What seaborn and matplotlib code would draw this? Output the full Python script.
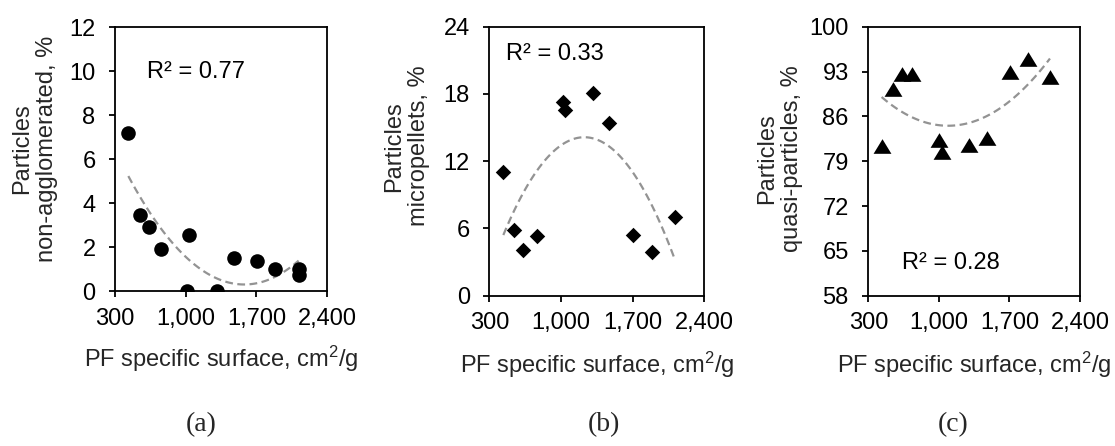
import numpy as np
import pandas as pd
import matplotlib
matplotlib.use("Agg")
import matplotlib.pyplot as plt
import seaborn as sns
from matplotlib.ticker import FuncFormatter, FixedLocator

# ---------------- data ----------------
x_a = [432, 548, 637, 753, 1011, 1037, 1309, 1474, 1705, 1887, 2119, 2119]
y_a = [7.2, 3.45, 2.92, 1.89, 0.0, 2.53, 0.0, 1.48, 1.38, 0.98, 0.98, 0.75]

x_b = [437, 544, 632, 769, 1017, 1039, 1310, 1473, 1707, 1893, 2114]
y_b = [11.0, 5.9, 4.1, 5.3, 17.3, 16.6, 18.1, 15.4, 5.4, 3.9, 7.0]

x_c = [432, 548, 637, 737, 1001, 1028, 1299, 1474, 1705, 1887, 2102]
y_c = [81.3, 90.2, 92.6, 92.6, 82.3, 80.5, 81.6, 82.7, 93.0, 94.9, 92.1]

r2_labels = ["R\u00b2 = 0.77", "R\u00b2 = 0.33", "R\u00b2 = 0.28"]
y_labels = ["Particles\nnon-agglomerated, %",
            "Particles\nmicropellets, %",
            "Particles\nquasi-particles, %"]
x_label = "PF specific surface, cm$^{2}$/g"
x_ticks = [300, 1000, 1700, 2400]
y_ticks_a = [0, 2, 4, 6, 8, 10, 12]
y_ticks_b = [0, 6, 12, 18, 24]
y_ticks_c = [58, 65, 72, 79, 86, 93, 100]
panel_tags = ["(a)", "(b)", "(c)"]

# ---------------- style ----------------
sns.set_style("ticks")
plt.rcParams["font.family"] = ["Liberation Sans", "DejaVu Sans"]
plt.rcParams["mathtext.fontset"] = "custom"
plt.rcParams["mathtext.rm"] = "Liberation Sans"
plt.rcParams["mathtext.it"] = "Liberation Sans:italic"
FS = 17

fig = plt.figure(figsize=(11.15, 4.46), dpi=100)

W, H = 1115.0, 446.0
boxes = [(115, 27, 327, 291), (489.3, 26.7, 704.3, 295.7), (868.3, 26.7, 1080, 295.7)]
axes = []
for (l, t, r, b) in boxes:
    axes.append(fig.add_axes([l / W, 1 - b / H, (r - l) / W, (b - t) / H]))

tri = [(0, 0.82), (-1, -0.82), (1, -0.82)]
datasets = [
    (x_a, y_a, "o", 110, y_ticks_a),
    (x_b, y_b, "D", 62, y_ticks_b),
    (x_c, y_c, tri, 165, y_ticks_c),
]
r2_pos = [(0.151, 0.83), (0.078, 0.90), (0.16, 0.12)]
ylab_pos = [(-0.269, 0.54), (-0.276, 0.556), (-0.308, 0.508)]

for i, ax in enumerate(axes):
    xs, ys, mk, size, yt = datasets[i]
    df = pd.DataFrame({"x": xs, "y": ys})
    sns.regplot(data=df, x="x", y="y", order=2, ci=None, scatter=False, ax=ax,
                line_kws=dict(color="#939393", lw=1.6, ls=(0, (3.5, 2.0))))
    sns.scatterplot(data=df, x="x", y="y", marker=mk, s=size, color="black",
                    edgecolor="black", linewidth=0, ax=ax, zorder=3)
    ax.set_xlim(x_ticks[0], x_ticks[-1])
    ax.set_ylim(yt[0], yt[-1])
    ax.xaxis.set_major_locator(FixedLocator(x_ticks))
    ax.yaxis.set_major_locator(FixedLocator(yt))
    ax.xaxis.set_major_formatter(FuncFormatter(lambda v, p: f"{int(v):,}"))
    ax.yaxis.set_major_formatter(FuncFormatter(lambda v, p: f"{int(v)}"))
    ax.tick_params(axis="both", direction="out", length=4, width=1.3,
                   labelsize=FS, color="black", labelcolor="black")
    ax.tick_params(axis="x", pad=8)
    ax.tick_params(axis="y", pad=10)
    for sp in ax.spines.values():
        sp.set_visible(True)
        sp.set_linewidth(1.3)
        sp.set_color("black")
    ax.set_xlabel(x_label, fontsize=FS)
    ax.xaxis.set_label_coords(0.5, -0.20)
    ax.set_ylabel(y_labels[i], fontsize=FS, linespacing=1.15)
    ax.yaxis.set_label_coords(*ylab_pos[i])
    ax.text(r2_pos[i][0], r2_pos[i][1], r2_labels[i], transform=ax.transAxes,
            fontsize=FS, ha="left", va="center", color="black")

tag_x = [201, 604, 953]
for tx, tag in zip(tag_x, panel_tags):
    fig.text(tx / W, 1 - 412 / H, tag, ha="center", va="top",
             fontsize=20, family="Liberation Serif")

fig.savefig("out.png", dpi=100)
